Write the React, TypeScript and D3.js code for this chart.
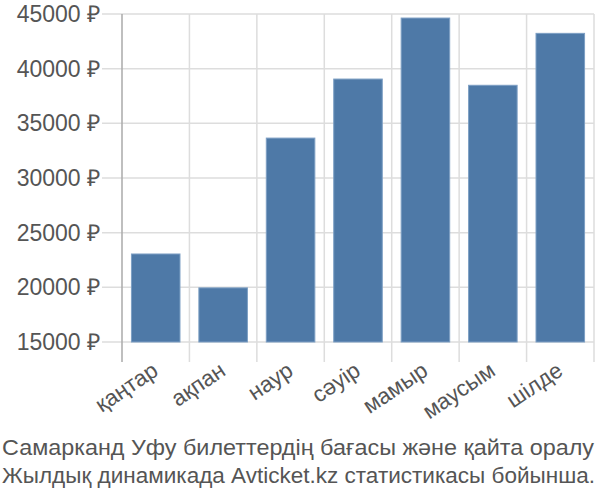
import React from "react";
import * as d3 from "d3";

const categories = ["қаңтар", "ақпан", "наур", "сәуір", "мамыр", "маусым", "шілде"];
const prices = [23050, 19950, 33650, 39050, 44630, 38480, 43230];
const yTicks = [15000, 20000, 25000, 30000, 35000, 40000, 45000];
const titleLines = [
  "Самарканд Уфу билеттердің бағасы және қайта оралу",
  "Жылдық динамикада Avticket.kz статистикасы бойынша.",
];
const titleWidths = [592, 593];

export default function App() {
  const W = 600, H = 500;
  const left = 122, right = 594, top = 14, bottom = 342;
  const x = d3.scaleBand<string>().domain(categories).range([left, right]).paddingInner(0.28).paddingOuter(0.14);
  const xb = d3.scaleBand<string>().domain(categories).range([left, right]);
  const y = d3.scaleLinear().domain([15000, 45000]).range([bottom, top]);
  const font = "'Liberation Sans', Arial, sans-serif";
  const boundaries = [...categories.map((c) => xb(c)!), right];
  return (
    <svg width={W} height={H} style={{ position: "absolute", left: 0, top: 0 }}>
      <rect width={W} height={H} fill="#fff" />
      {yTicks.map((t) => (
        <g key={t}>
          <line x1={102} x2={right} y1={y(t)} y2={y(t)} stroke="#ddd" strokeWidth={1.5} />
          <text x={100} y={y(t)} dy="0.35em" textAnchor="end" fontFamily={font} fontSize={23} fill="#555">
            {`${t} ₽`}
          </text>
        </g>
      ))}
      {boundaries.map((b, i) => (
        <line key={i} x1={b} x2={b} y1={top} y2={362} stroke={i === 0 ? "#aaa" : "#ddd"} strokeWidth={1.5} />
      ))}
      {categories.map((c, i) => (
        <rect
          key={c}
          x={x(c)}
          y={y(prices[i])}
          width={x.bandwidth()}
          height={bottom - y(prices[i])}
          fill="#4e79a7"
          stroke="#7d9fc4"
          strokeWidth={1}
        />
      ))}
      {categories.map((c) => {
        const cx = xb(c)! + xb.bandwidth() / 2;
        return (
          <text
            key={c}
            transform={`translate(${cx + 4},${374}) rotate(-34)`}
            textAnchor="end"
            fontFamily={font}
            fontSize={22.5}
            fill="#555"
          >
            {c}
          </text>
        );
      })}
      {titleLines.map((l, i) => (
        <text
          key={i}
          x={2}
          y={455 + i * 28}
          fontFamily={font}
          fontSize={22.4}
          fill="#555"
          textLength={titleWidths[i]}
          lengthAdjust="spacingAndGlyphs"
        >
          {l}
        </text>
      ))}
    </svg>
  );
}
